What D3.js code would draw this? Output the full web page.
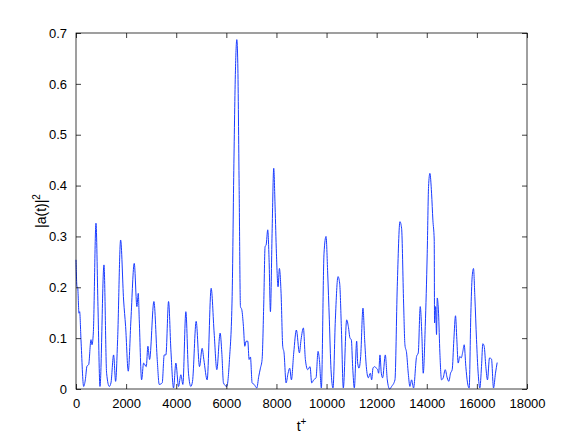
<!DOCTYPE html>
<html>
<head>
<meta charset="utf-8">
<script src="https://cdn.jsdelivr.net/npm/d3@7"></script>
<style>
  body { margin: 0; background: #fff; }
  svg { display: block; }
  text { font-family: "Liberation Sans", Arial, Helvetica, sans-serif; }
</style>
</head>
<body>
<div id="chart"></div>
<script>
var width = 582
var height = 438
var margin = {top: 33, right: 55, bottom: 49, left: 76}

// time samples (t+) and |a(t)|^2
var tValues = [0, 40, 66, 120, 146, 199, 306, 372, 438, 505, 598, 638, 691, 797, 877, 957,
    1116, 1222, 1329, 1395, 1501, 1581, 1661, 1781, 1900, 1980, 2086, 2192, 2325, 2431, 2485,
    2525, 2618, 2698, 2804, 2870, 2936, 3109, 3242, 3322, 3441, 3521, 3588, 3694, 3787, 3893,
    3986, 4092, 4185, 4265, 4384, 4490, 4583, 4650, 4796, 4929, 5035, 5102, 5235, 5394, 5514,
    5620, 5753, 5820, 5886, 6019, 6125, 6232, 6298, 6364, 6418, 6457, 6511, 6564, 6617, 6683,
    6737, 6790, 6856, 6909, 6962, 7029, 7109, 7215, 7295, 7361, 7427, 7494, 7547, 7587, 7653,
    7706, 7760, 7826, 7892, 7946, 7999, 8065, 8118, 8185, 8251, 8304, 8384, 8464, 8530, 8597,
    8690, 8796, 8916, 8982, 9075, 9155, 9248, 9341, 9407, 9487, 9580, 9660, 9713, 9793, 9899,
    9979, 10045, 10111, 10178, 10258, 10351, 10457, 10523, 10590, 10669, 10803, 10869, 10936,
    10989, 11042, 11109, 11202, 11242, 11295, 11362, 11453, 11520, 11587, 11667, 11747, 11800,
    11853, 11919, 11986, 12039, 12079, 12132, 12185, 12238, 12345, 12424, 12517, 12597, 12730,
    12822, 12929, 12995, 13075, 13128, 13194, 13261, 13327, 13394, 13473, 13593, 13660, 13739,
    13806, 13859, 13939, 14018, 14071, 14124, 14191, 14244, 14297, 14310, 14350, 14390, 14417,
    14470, 14523, 14589, 14656, 14736, 14815, 14881, 14948, 15014, 15081, 15147, 15200, 15253,
    15320, 15373, 15440, 15493, 15559, 15626, 15692, 15759, 15812, 15865, 15918, 15985, 16051,
    16118, 16184, 16237, 16291, 16357, 16423, 16503, 16583, 16663, 16742, 16809]

var aValues = [0.254, 0.201, 0.2, 0.149, 0.152, 0.097, 0.005, 0.018, 0.045, 0.048, 0.097, 0.087,
    0.11, 0.326, 0.162, 0.005, 0.244, 0.031, 0.005, 0.012, 0.067, 0.015, 0.097, 0.293, 0.175,
    0.123, 0.035, 0.136, 0.247, 0.162, 0.188, 0.136, 0.018, 0.051, 0.044, 0.084, 0.058, 0.172,
    0.058, 0.009, 0.012, 0.067, 0.067, 0.172, 0.077, 0.002, 0.051, 0.005, 0.028, 0.009, 0.152,
    0.031, 0.005, 0.015, 0.133, 0.044, 0.08, 0.058, 0.018, 0.198, 0.11, 0.038,
    0.11, 0.071, 0.012, 0.005, 0.058, 0.182, 0.43, 0.627, 0.687, 0.64, 0.398, 0.162, 0.156,
    0.123, 0.084, 0.094, 0.094, 0.058, 0.063, 0.012, 0.009, 0.002, 0.025, 0.041, 0.058, 0.169,
    0.28, 0.283, 0.313, 0.254, 0.152, 0.306, 0.434, 0.358, 0.267, 0.201, 0.237, 0.188, 0.084,
    0.071, 0.012, 0.031, 0.041, 0.018, 0.071, 0.116, 0.071, 0.097, 0.12, 0.058, 0.038, 0.044,
    0.012, 0.018, 0.022, 0.074, 0.058, 0.002, 0.267, 0.3, 0.228, 0.136, 0.038, 0.002, 0.136,
    0.221, 0.208, 0.123, 0.002, 0.136, 0.123, 0.1, 0.097, 0.044, 0.002, 0.094, 0.051, 0.041,
    0.064, 0.159, 0.097, 0.044, 0.022, 0.031, 0.018, 0.041, 0.044, 0.041, 0.038, 0.031, 0.067,
    0.031, 0.022, 0.067, 0.018, 0, 0.005, 0.018, 0.201, 0.329, 0.316, 0.169, 0.087, 0.071,
    0.031, 0.005, 0.018, 0.002, 0.064, 0.071, 0.162, 0.103, 0.031, 0.123, 0.267, 0.398, 0.424,
    0.385, 0.332, 0.293, 0.13, 0.162, 0.107, 0.179, 0.149, 0.071, 0.018, 0.022, 0.038, 0.022,
    0.015, 0.031, 0.038, 0.097, 0.144, 0.097, 0.051, 0.064, 0.061, 0.074, 0.087, 0.044, 0.012,
    0.002, 0.149, 0.221, 0.237, 0.182, 0.097, 0.031, 0.002, 0.044, 0.089, 0.084, 0.044, 0.018,
    0.061, 0.059, 0.002, 0.031, 0.052]

var xTicks = [0, 2000, 4000, 6000, 8000, 10000, 12000, 14000, 16000, 18000]
var yTicks = [0, 0.1, 0.2, 0.3, 0.4, 0.5, 0.6, 0.7]

var w = width - margin.left - margin.right
var h = height - margin.top - margin.bottom

var svg = d3.select("#chart")
    .append("svg")
    .attr("width", width)
    .attr("height", height)

var g = svg.append("g")
    .attr("transform", "translate(" + margin.left + "," + margin.top + ")")

var x = d3.scaleLinear().domain([0, 18000]).range([0, w])
var y = d3.scaleLinear().domain([0, 0.7]).range([h, 0])

var points = tValues.map(function(t, i) { return [t, aValues[i]]; })

// monotone curve keeps peaks rounded like the original signal without dipping below 0
var line = d3.line()
    .curve(d3.curveMonotoneX)
    .x(function(d) { return x(d[0]); })
    .y(function(d) { return y(d[1]); })

g.append("path")
    .datum(points)
    .attr("fill", "none")
    .attr("stroke", "#1a3cff")
    .attr("stroke-width", 1)
    .attr("stroke-linejoin", "round")
    .attr("d", line)

// MATLAB-style box with inward ticks on all sides
var tickLen = 5
var fmt = function(d) { return d3.format("")(+d.toFixed(1)); }

var xBottom = g.append("g")
    .attr("transform", "translate(0," + h + ")")
    .call(d3.axisBottom(x).tickValues(xTicks).tickSize(-tickLen).tickPadding(10).tickFormat(d3.format("d")))
var xTop = g.append("g")
    .call(d3.axisTop(x).tickValues(xTicks).tickSize(-tickLen).tickFormat(""))
var yLeft = g.append("g")
    .call(d3.axisLeft(y).tickValues(yTicks).tickSize(-tickLen).tickPadding(9).tickFormat(fmt))
var yRight = g.append("g")
    .attr("transform", "translate(" + w + ",0)")
    .call(d3.axisRight(y).tickValues(yTicks).tickSize(-tickLen).tickFormat(""))

;[xBottom, xTop, yLeft, yRight].forEach(function(a) {
    a.select(".domain").remove()
    a.selectAll("line").attr("stroke", "#000").attr("stroke-width", 0.75)
    a.selectAll("text").attr("font-size", 13).attr("fill", "#000")
})

g.append("rect")
    .attr("width", w)
    .attr("height", h)
    .attr("fill", "none")
    .attr("stroke", "#000")
    .attr("stroke-width", 0.75)

// axis labels
var xl = svg.append("text")
    .attr("x", margin.left + w / 2)
    .attr("y", 431)
    .attr("text-anchor", "middle")
    .attr("font-size", 14)
xl.append("tspan").text("t")
xl.append("tspan").attr("dy", -6).attr("font-size", 10).text("+")

var yl = svg.append("text")
    .attr("transform", "translate(46," + (margin.top + h / 2) + ") rotate(-90)")
    .attr("text-anchor", "middle")
    .attr("font-size", 14)
yl.append("tspan").text("|a(t)|")
yl.append("tspan").attr("dy", -6).attr("font-size", 10).text("2")
</script>
</body>
</html>
